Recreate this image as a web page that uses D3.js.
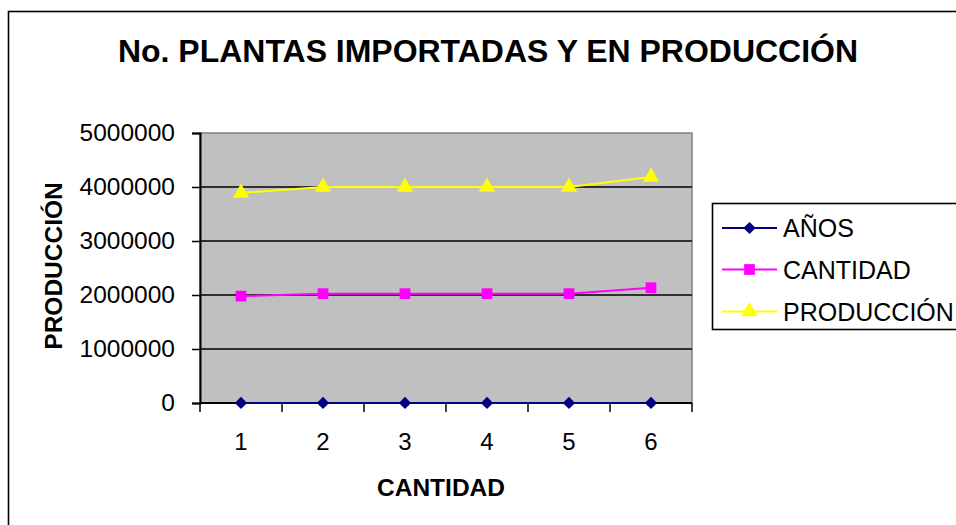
<!DOCTYPE html>
<html>
<head>
<meta charset="utf-8">
<script src="https://cdn.jsdelivr.net/npm/d3@7/dist/d3.min.js"></script>
<style>
  html, body { margin: 0; padding: 0; background: #fff; }
  svg { display: block; }
  text { font-family: "Liberation Sans", Arial, sans-serif; fill: #000; }
</style>
</head>
<body>
<svg id="chart" width="956" height="525"></svg>
<script>
// Categories on the x axis
const categories = [1, 2, 3, 4, 5, 6];

// Series values
const anos       = [2000, 2001, 2002, 2003, 2004, 2005];
const cantidad   = [1980000, 2025000, 2025000, 2025000, 2025000, 2135000];
const produccion = [3890000, 4000000, 4000000, 4000000, 4000000, 4185000];

// Y axis tick values
const yTicks = [0, 1000000, 2000000, 3000000, 4000000, 5000000];

const seriesNames  = ["AÑOS", "CANTIDAD", "PRODUCCIÓN"];
const seriesColors = ["#000080", "#FF00FF", "#FFFF00"];
// Square marker rotated 45° gives the diamond
const seriesShapes = [d3.symbolSquare, d3.symbolSquare, d3.symbolTriangle];
const seriesRotate = [45, 0, 0];
const seriesSizes  = [75, 115, 115];

const chartTitle = "No. PLANTAS IMPORTADAS Y EN PRODUCCIÓN";
const xTitle = "CANTIDAD";
const yTitle = "PRODUCCIÓN";

const svg = d3.select("#chart");

// Chart frame (runs past the right and bottom edges)
svg.append("rect")
  .attr("x", 8.5).attr("y", 11.5)
  .attr("width", 1100).attr("height", 600)
  .attr("fill", "#fff").attr("stroke", "#000").attr("stroke-width", 1.6);

const plot = { left: 200, right: 692, top: 133, bottom: 403 };

const x = d3.scaleBand()
  .domain(categories)
  .range([plot.left, plot.right]);

const y = d3.scaleLinear()
  .domain([0, 5000000])
  .range([plot.bottom, plot.top]);

// Plot area
svg.append("rect")
  .attr("x", plot.left).attr("y", plot.top)
  .attr("width", plot.right - plot.left).attr("height", plot.bottom - plot.top)
  .attr("fill", "#C0C0C0").attr("stroke", "#808080").attr("stroke-width", 1.5);

// Horizontal gridlines
svg.append("g")
  .selectAll("line")
  .data(yTicks.filter(v => v > 0 && v < 5000000))
  .join("line")
  .attr("x1", plot.left).attr("x2", plot.right)
  .attr("y1", d => y(d)).attr("y2", d => y(d))
  .attr("stroke", "#000").attr("stroke-width", 1.5);

// Y axis
const yAxis = svg.append("g")
  .attr("transform", `translate(${plot.left},0)`)
  .call(d3.axisLeft(y).tickValues(yTicks).tickFormat(d3.format("d")).tickSize(8).tickPadding(17));
yAxis.select(".domain").attr("stroke", "#000").attr("stroke-width", 2);
yAxis.selectAll(".tick line").attr("stroke", "#000").attr("stroke-width", 1.5);
yAxis.selectAll(".tick text")
  .attr("font-size", 24.5)
  .attr("font-family", "'Liberation Sans', Arial, sans-serif")
  .attr("fill", "#000");

// X axis line and category boundary ticks
const bounds = categories.map(c => x(c)).concat([x(categories[categories.length - 1]) + x.bandwidth()]);
svg.append("line")
  .attr("x1", plot.left).attr("x2", plot.right)
  .attr("y1", plot.bottom).attr("y2", plot.bottom)
  .attr("stroke", "#000").attr("stroke-width", 2);
svg.append("g")
  .selectAll("line")
  .data(bounds)
  .join("line")
  .attr("x1", d => d).attr("x2", d => d)
  .attr("y1", plot.bottom).attr("y2", plot.bottom + 9)
  .attr("stroke", "#000").attr("stroke-width", 1.5);

// X tick labels
svg.append("g")
  .selectAll("text")
  .data(categories)
  .join("text")
  .attr("x", d => x(d) + x.bandwidth() / 2)
  .attr("y", 450)
  .attr("text-anchor", "middle")
  .attr("font-size", 24)
  .text(d => d);

// Series lines and markers
const seriesData = [anos, cantidad, produccion];
const cx = (d, i) => x(categories[i]) + x.bandwidth() / 2;
const line = d3.line().x(cx).y(d => y(d));

seriesData.forEach((vals, s) => {
  svg.append("path")
    .datum(vals)
    .attr("d", line)
    .attr("fill", "none")
    .attr("stroke", seriesColors[s])
    .attr("stroke-width", 2);
  svg.append("g")
    .selectAll("path")
    .data(vals)
    .join("path")
    .attr("transform", (d, i) => `translate(${cx(d, i)},${y(d)}) rotate(${seriesRotate[s]})`)
    .attr("d", d3.symbol().type(seriesShapes[s]).size(seriesSizes[s]))
    .attr("fill", seriesColors[s]);
});

// Title
svg.append("text")
  .attr("x", 488).attr("y", 62)
  .attr("text-anchor", "middle")
  .attr("font-size", 31)
  .attr("font-weight", "bold")
  .attr("textLength", 740)
  .attr("lengthAdjust", "spacingAndGlyphs")
  .text(chartTitle);

// Axis titles
svg.append("text")
  .attr("x", 441).attr("y", 496)
  .attr("text-anchor", "middle")
  .attr("font-size", 24.5)
  .attr("font-weight", "bold")
  .text(xTitle);

svg.append("text")
  .attr("transform", "translate(62,266) rotate(-90)")
  .attr("text-anchor", "middle")
  .attr("font-size", 24.5)
  .attr("font-weight", "bold")
  .text(yTitle);

// Legend (box runs past the right edge)
const legend = svg.append("g");
legend.append("rect")
  .attr("x", 712.5).attr("y", 203.5)
  .attr("width", 300).attr("height", 126)
  .attr("fill", "#fff").attr("stroke", "#000").attr("stroke-width", 1.6);

const rowY = [228, 269.5, 311.5];
seriesNames.forEach((name, s) => {
  legend.append("line")
    .attr("x1", 722).attr("x2", 777)
    .attr("y1", rowY[s]).attr("y2", rowY[s])
    .attr("stroke", seriesColors[s]).attr("stroke-width", 2);
  legend.append("path")
    .attr("transform", `translate(749.5,${rowY[s]}) rotate(${seriesRotate[s]})`)
    .attr("d", d3.symbol().type(seriesShapes[s]).size(seriesSizes[s]))
    .attr("fill", seriesColors[s]);
  legend.append("text")
    .attr("x", 783).attr("y", rowY[s])
    .attr("dy", "0.36em")
    .attr("font-size", 25)
    .text(name);
});
</script>
</body>
</html>
